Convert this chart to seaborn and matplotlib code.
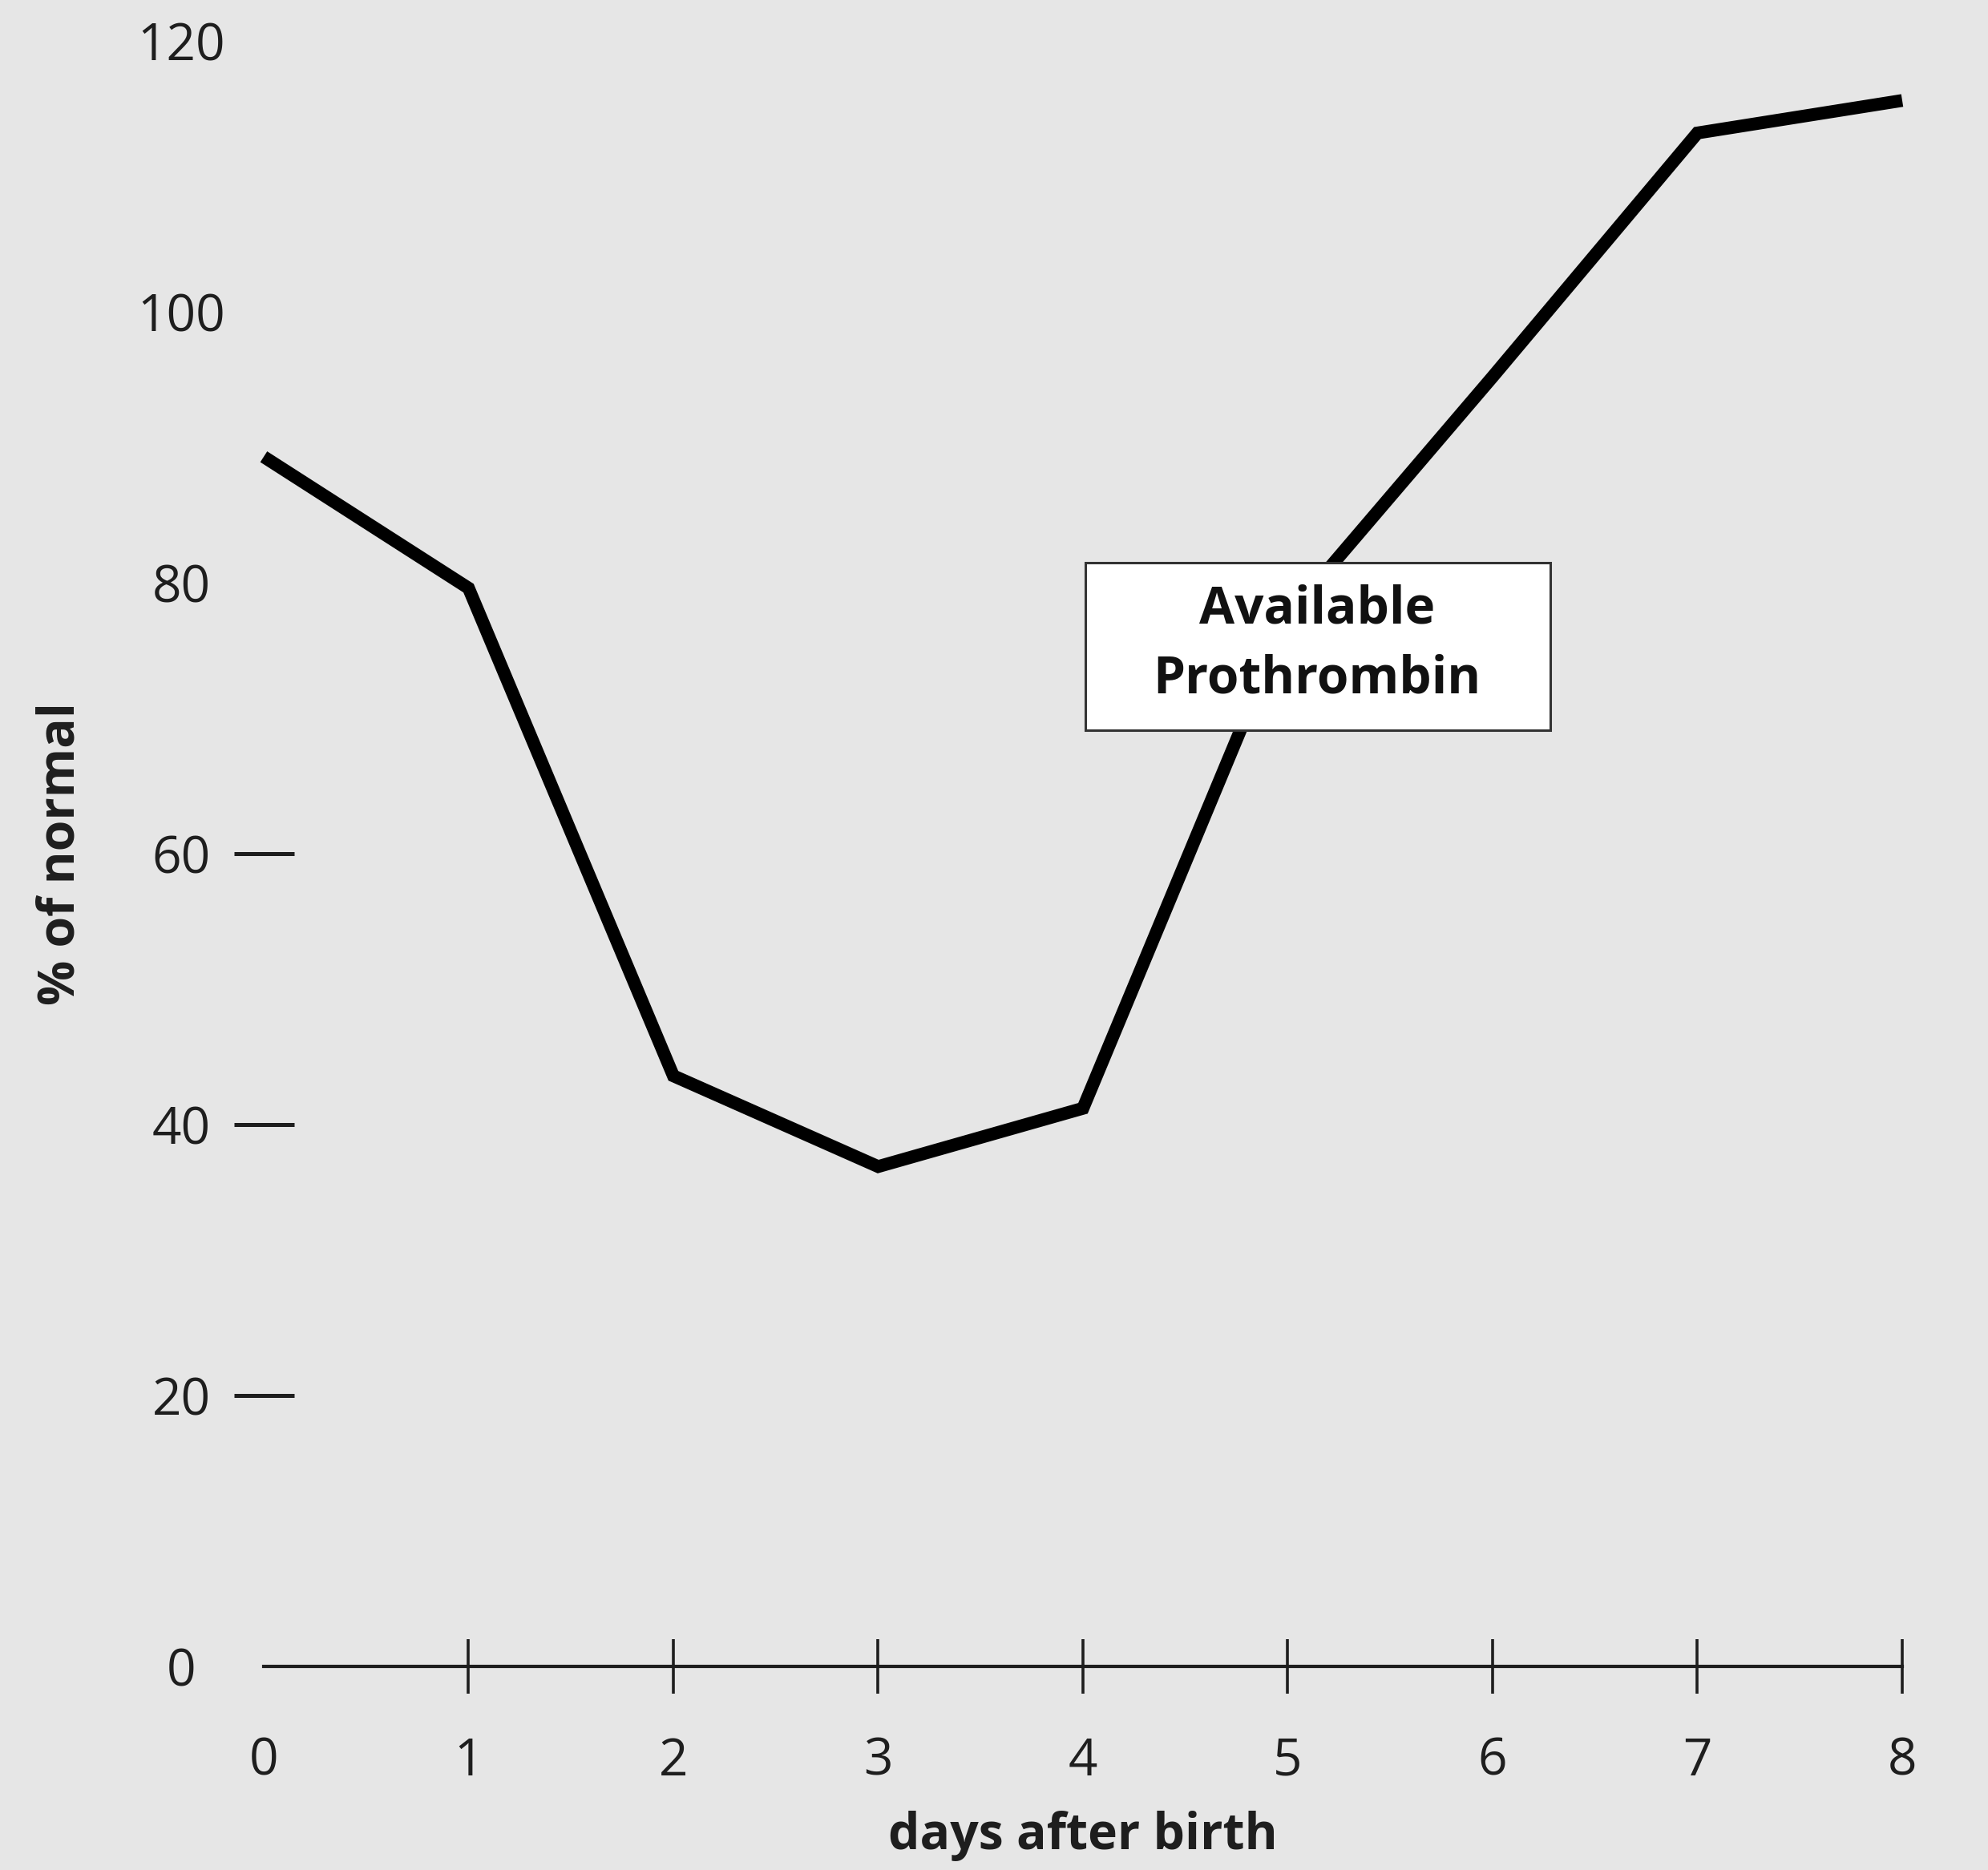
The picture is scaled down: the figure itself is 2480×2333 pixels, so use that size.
import matplotlib
matplotlib.use("Agg")
import matplotlib.pyplot as plt
from matplotlib import font_manager
from matplotlib.patches import Rectangle
import seaborn as sns
import pandas as pd

# ---- data ----
days = [0, 1, 2, 3, 4, 5, 6, 7, 8]
prothrombin_pct = [89.3, 79.6, 43.6, 36.9, 41.2, 77.5, 95.2, 113.2, 115.6]
x_ticks = [0, 1, 2, 3, 4, 5, 6, 7, 8]
x_mark_ticks = [1, 2, 3, 4, 5, 6, 7, 8]
y_ticks = [0, 20, 40, 60, 80, 100, 120]
y_dash_ticks = [20, 40, 60]
x_label = "days after birth"
y_label = "% of normal"
box_label = "Available\nProthrombin"

df = pd.DataFrame({"day": days, "pct": prothrombin_pct})

sns.set_style("white")
avail = {f.name for f in font_manager.fontManager.ttflist}
if "Liberation Sans Narrow" in avail:
    fam = "Liberation Sans Narrow"
    tick_fs, lab_fs, box_fs = 51, 56, 56
else:
    fam = "Open Sans"
    tick_fs, lab_fs, box_fs = 46, 45, 46
plt.rcParams["font.family"] = [fam, "DejaVu Sans"]

BG = "#e6e6e6"
INK = "#1e1e1e"

fig = plt.figure(figsize=(24.8, 23.33), dpi=100, facecolor=BG)
ax = fig.add_axes([0.13266, 0.10887, 0.82419, 0.86927])
ax.set_facecolor(BG)

sns.lineplot(data=df, x="day", y="pct", ax=ax, color="black", linewidth=11.5,
             solid_joinstyle="miter", solid_capstyle="butt", clip_on=False,
             zorder=3)

ax.set_xlim(0, 8)
ax.set_ylim(0, 120)

for s in ["top", "right", "left"]:
    ax.spines[s].set_visible(False)
ax.spines["bottom"].set_color(INK)
ax.spines["bottom"].set_linewidth(3)
ax.spines["bottom"].set_zorder(2)

ax.set_xticks(x_ticks)
ax.set_xticklabels([str(v) for v in x_ticks])
ax.set_yticks(y_ticks)
ax.set_yticklabels([str(v) for v in y_ticks])

ax.tick_params(axis="x", bottom=True, direction="inout", length=49, width=2.6,
               color=INK, pad=38, labelsize=tick_fs, labelcolor=INK)
ax.tick_params(axis="y", left=True, direction="inout", length=54, width=3.6,
               color=INK, pad=47, labelsize=tick_fs, labelcolor=INK)
for lab in ax.get_yticklabels():
    lab.set_horizontalalignment("center")

for t, v in zip(ax.yaxis.get_major_ticks(), y_ticks):
    t.tick1line.set_visible(v in y_dash_ticks)
for t, v in zip(ax.xaxis.get_major_ticks(), x_ticks):
    t.tick1line.set_visible(v in x_mark_ticks)

ax.set_xlabel(x_label, fontsize=lab_fs, fontweight="bold", color=INK, va="center")
ax.xaxis.set_label_coords(0.5, -0.1045)
ax.set_ylabel(y_label, fontsize=lab_fs, fontweight="bold", color=INK, va="center")
ax.yaxis.set_label_coords(-0.124, 0.5)

ax.add_patch(Rectangle((4.01, 69.1), 2.27, 12.4, facecolor="white",
                       edgecolor="#333333", linewidth=2.2, zorder=4))
ax.text(5.143, 75.4, box_label, ha="center", va="center", fontsize=box_fs,
        fontweight="bold", color="#111111", linespacing=1.45, zorder=5)

fig.savefig("out.png", dpi=100, facecolor=BG)
